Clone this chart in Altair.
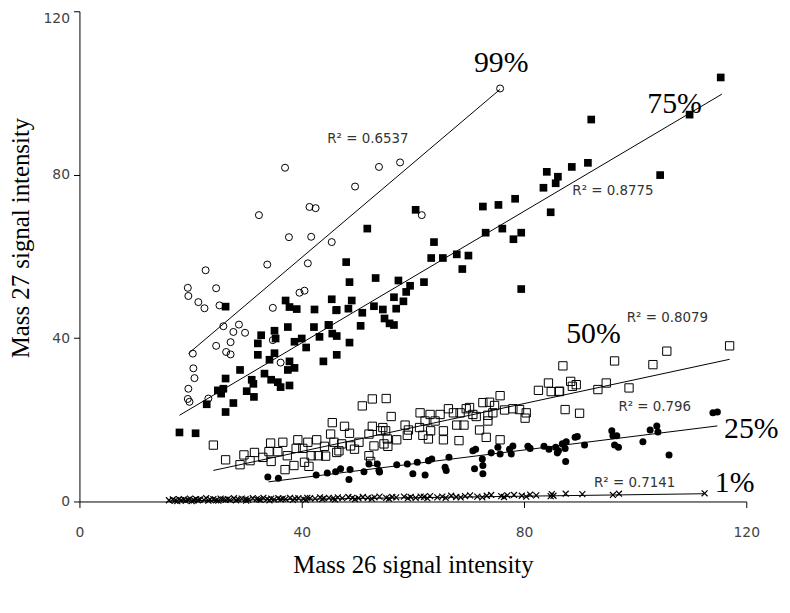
import altair as alt
import pandas as pd

# ---- data ----
x99 = [75.7, 53.9, 57.7, 49.6, 45.4, 61.6, 37.0, 32.3, 41.4, 42.5, 37.7, 41.7, 33.8, 41.1, 22.7,
       19.5, 19.6, 24.6, 21.4, 22.5, 25.2, 39.6, 40.5, 34.8, 25.9, 28.7, 27.7, 29.8, 24.6, 27.2,
       26.4, 27.2, 20.4, 20.5, 20.7, 19.6, 19.5, 34.8, 36.2, 23.2, 19.8]
y99 = [101.1, 81.9, 83.0, 77.1, 63.5, 70.1, 81.7, 70.1, 72.1, 71.8, 64.7, 64.8, 58.0, 58.3, 56.6,
       52.3, 50.3, 52.2, 48.8, 47.3, 48.0, 51.1, 51.6, 47.4, 42.9, 43.3, 41.5, 41.3, 38.1, 39.0,
       36.6, 36.0, 36.2, 32.6, 30.2, 27.6, 25.1, 39.5, 34.0, 25.2, 24.4]

x75 = [115.4, 109.8, 104.5, 92.1, 91.5, 88.6, 84.1, 86.1, 85.7, 83.5, 84.8, 78.4, 75.4, 72.6, 73.1,
       76.1, 79.5, 78.1, 79.5, 70.0, 67.9, 65.4, 63.3, 68.9, 63.8, 60.5, 51.8, 48.0, 48.6, 53.3,
       57.4, 59.5, 62.0, 58.8, 56.6, 58.3, 57.0, 45.4, 49.0, 46.3, 48.4, 50.9, 53.0, 54.6, 54.9,
       55.8, 56.6, 50.6, 44.9, 45.5, 46.3, 48.6, 46.3, 26.3, 37.1, 37.8, 39.1, 42.3, 46.2, 37.5,
       42.2, 44.8, 32.7, 32.1, 35.1, 35.3, 38.7, 40.0, 40.8, 43.2, 32.1, 35.1, 34.2, 37.8, 38.7,
       37.5, 43.9, 28.9, 33.3, 34.5, 35.7, 36.2, 37.8, 31.0, 31.3, 30.1, 31.4, 26.3, 24.9, 25.9,
       25.5, 27.7, 22.9, 26.3, 18.0, 20.9]
y75 = [103.8, 94.7, 79.9, 93.5, 82.9, 81.9, 80.7, 79.5, 77.9, 76.8, 70.8, 74.1, 72.6, 72.2, 65.8,
       66.8, 65.8, 64.2, 52.0, 60.2, 60.5, 59.6, 59.6, 56.9, 63.5, 71.4, 66.8, 58.6, 53.7, 54.7,
       54.1, 52.8, 53.7, 51.3, 50.0, 49.0, 47.2, 49.5, 49.2, 46.9, 47.2, 46.2, 47.8, 47.0, 44.8,
       43.6, 43.2, 43.0, 43.2, 41.1, 40.5, 38.9, 35.9, 47.7, 49.2, 47.6, 47.1, 47.0, 46.8, 42.7,
       42.7, 43.2, 40.7, 38.7, 41.8, 39.9, 39.1, 39.9, 37.7, 40.3, 35.9, 36.3, 34.7, 34.3, 32.7,
       32.2, 34.3, 32.2, 31.3, 29.8, 29.2, 28.0, 28.4, 29.8, 28.8, 27.0, 25.6, 30.1, 27.2, 27.6,
       26.4, 24.1, 23.8, 21.9, 16.9, 16.7]

x50 = [24.1, 26.3, 28.9, 29.6, 30.7, 31.5, 33.0, 34.4, 36.6, 34.1, 35.7, 34.5, 37.0, 37.4, 38.6,
       39.3, 41.1, 42.7, 39.0, 40.2, 40.5, 41.3, 41.7, 43.0, 44.1, 44.3, 45.5, 47.7, 48.6, 45.2,
       45.8, 47.2, 46.3, 46.7, 48.8, 49.5, 50.3, 50.9, 52.7, 52.1, 52.7, 54.2, 52.1, 52.4, 53.0,
       55.2, 54.6, 55.1, 55.4, 54.8, 55.5, 56.1, 57.1, 58.6, 59.2, 59.0, 61.2, 61.8, 62.8, 63.2,
       61.3, 62.2, 63.1, 64.0, 64.9, 65.5, 65.5, 66.4, 67.3, 68.5, 69.6, 70.2, 70.8, 71.4, 67.9,
       69.2, 68.3, 72.0, 73.2, 73.5, 73.5, 72.6, 73.8, 74.7, 74.4, 75.7, 75.7, 76.5, 78.0, 79.2,
       80.4, 80.2, 82.6, 84.4, 84.9, 86.3, 87.0, 87.4, 88.4, 88.7, 89.4, 86.4, 90.0, 93.3, 94.8,
       96.3, 98.9, 103.2, 105.7, 117.0]
y50 = [13.8, 10.2, 9.0, 11.4, 10.0, 12.0, 10.8, 14.3, 14.5, 12.2, 12.2, 9.8, 7.8, 11.2, 8.8,
       15.1, 14.5, 15.1, 13.0, 13.0, 9.6, 8.6, 11.2, 11.2, 13.5, 11.1, 19.3, 18.4, 16.7, 16.5,
       14.5, 14.1, 12.0, 12.4, 13.6, 12.8, 14.5, 23.4, 25.1, 16.5, 18.4, 17.3, 11.2, 9.8, 13.6,
       25.2, 18.1, 17.3, 15.3, 14.1, 13.5, 20.8, 15.1, 18.7, 17.5, 16.2, 18.1, 16.2, 15.3, 17.3,
       21.7, 19.7, 21.3, 19.7, 21.3, 17.3, 15.1, 22.7, 21.7, 21.7, 22.7, 23.0, 21.3, 20.8, 18.7,
       18.7, 14.9, 17.5, 15.7, 19.7, 21.1, 24.2, 24.3, 23.5, 21.7, 25.9, 15.1, 22.4, 22.7, 22.5,
       21.7, 20.4, 27.2, 29.0, 26.9, 26.9, 33.2, 22.5, 29.4, 28.2, 28.6, 27.0, 21.6, 27.4, 29.0,
       34.4, 27.8, 33.5, 36.8, 38.1]

x25 = [33.9, 35.8, 42.6, 44.6, 46.1, 47.0, 48.7, 48.5, 51.2, 52.1, 53.6, 53.9, 54.0, 57.1, 59.0,
       60.0, 60.8, 62.2, 62.8, 63.4, 65.8, 66.0, 66.5, 70.8, 71.3, 71.1, 72.5, 72.6, 72.6, 74.1,
       75.3, 75.7, 77.4, 77.7, 78.0, 80.7, 81.1, 83.6, 84.5, 85.7, 86.0, 87.4, 87.6, 87.5, 89.2,
       86.2, 86.9, 89.6, 90.9, 95.8, 96.0, 96.7, 96.3, 97.0, 101.4, 102.7, 103.9, 104.1, 106.1,
       114.0, 114.8]
y25 = [6.0, 5.7, 6.5, 7.0, 7.3, 8.0, 7.8, 5.4, 7.3, 9.2, 9.2, 7.6, 7.2, 9.0, 9.2,
       6.8, 9.6, 6.5, 10.0, 10.4, 8.4, 7.6, 10.8, 12.4, 12.8, 8.0, 10.4, 8.8, 6.8, 11.9,
       13.3, 11.6, 12.8, 11.6, 13.6, 13.5, 13.0, 13.5, 12.8, 13.3, 11.9, 13.0, 14.6, 9.8, 15.7,
       12.4, 14.1, 15.9, 13.8, 17.3, 16.1, 16.1, 13.8, 13.3, 14.6, 17.5, 18.5, 17.0, 11.4,
       21.7, 21.9]

x1 = [16.1, 16.8, 17.2, 17.9, 18.3, 18.8, 19.5, 19.9, 20.6, 21.0, 21.7, 22.4, 22.8, 23.5, 24.1,
      24.6, 25.4, 25.9, 26.7, 27.1, 27.8, 28.6, 29.2, 29.9, 30.4, 31.2, 31.9, 32.3, 33.1, 33.8,
      34.5, 35.0, 35.8, 36.6, 37.1, 37.9, 38.8, 39.4, 40.3, 41.0, 41.5, 42.4, 43.3, 44.0, 44.9,
      45.6, 46.5, 47.3, 48.4, 49.1, 50.2, 51.0, 51.9, 53.1, 54.0, 55.2, 56.3, 57.0, 58.4, 59.6,
      60.5, 61.4, 62.0, 63.1, 64.4, 65.3, 66.9, 67.8, 69.4, 70.3, 71.6, 73.3, 74.1, 75.9, 77.0,
      78.2, 79.6, 81.1, 82.2, 85.0, 85.3, 87.5, 90.5, 96.0, 97.1, 112.5,
      17.6, 19.1, 20.2, 21.3, 23.2, 25.0, 26.3, 28.2, 30.0, 32.6, 34.2, 36.2, 38.4, 40.7, 43.7,
      46.0, 49.6, 52.6, 55.7, 59.1, 62.6, 65.9, 68.6, 72.5, 76.4, 80.4, 84.8]
y1 = [0.3, 0.5, 0.2, 0.6, 0.3, 0.5, 0.4, 0.7, 0.3, 0.6, 0.5, 0.4, 0.8, 0.5, 0.6,
      0.3, 0.7, 0.5, 0.6, 0.4, 0.8, 0.5, 0.7, 0.6, 0.4, 0.8, 0.6, 0.5, 0.9, 0.6,
      0.7, 0.5, 0.8, 0.7, 0.6, 0.9, 0.7, 0.8, 0.6, 0.9, 0.8, 0.7, 1.0, 0.8, 0.9,
      0.7, 1.0, 0.8, 1.1, 0.9, 0.8, 1.1, 0.9, 1.0, 1.2, 0.9, 1.1, 1.0, 1.2, 1.1,
      0.9, 1.2, 1.1, 1.3, 1.0, 1.2, 1.4, 1.1, 1.3, 1.5, 1.2, 1.4, 1.6, 1.3, 1.5,
      1.6, 1.4, 1.7, 1.5, 1.8, 1.4, 1.9, 1.8, 1.6, 1.9, 2.0,
      0.1, 0.2, 0.1, 0.3, 0.2, 0.2, 0.4, 0.3, 0.2, 0.4, 0.3, 0.5, 0.4, 0.4, 0.6,
      0.5, 0.6, 0.7, 0.7, 0.8, 0.8, 0.9, 1.0, 1.0, 1.1, 1.2, 1.3]

# trend lines (start / end)
trend_x1 = [19.6, 18.0, 24.1, 34.0, 16.0]
trend_y1 = [36.2, 21.1, 7.6, 4.8, 0.1]
trend_x2 = [75.7, 115.6, 117.0, 114.8, 112.5]
trend_y2 = [100.9, 99.7, 34.8, 18.5, 1.9]

r2_text = ["R² = 0.6537", "R² = 0.8775", "R² = 0.8079", "R² = 0.796", "R² = 0.7141"]
r2_x = [44.6, 88.7, 98.5, 97.0, 92.6]
r2_y = [88.7, 75.9, 44.8, 23.0, 4.4]

pct_text = ["99%", "75%", "50%", "25%", "1%"]
pct_x = [75.9, 107.1, 92.5, 120.9, 117.9]
pct_y = [107.4, 97.2, 41.0, 17.7, 4.4]

# ---- chart ----
X = alt.X("x:Q", scale=alt.Scale(domain=[0, 120], nice=False),
          axis=alt.Axis(values=[0, 40, 80, 120], title="Mass 26 signal intensity",
                        grid=False, tickSize=6, labelPadding=18, titlePadding=14))
Y = alt.Y("y:Q", scale=alt.Scale(domain=[0, 120], nice=False),
          axis=alt.Axis(values=[0, 40, 80, 120], title="Mass 27 signal intensity",
                        grid=False, tickSize=6, labelPadding=4, titleX=-46, titleY=228,
                        labelBaseline=alt.condition("datum.value == 120",
                                                    alt.value("top"), alt.value("middle"))))


def df(xs, ys):
    return pd.DataFrame({"x": xs, "y": ys})


p99 = alt.Chart(df(x99, y99)).mark_point(shape="circle", filled=False, color="black",
                                         size=50, strokeWidth=1, opacity=1).encode(x=X, y=Y)
p75 = alt.Chart(df(x75, y75)).mark_point(shape="square", filled=True, color="black",
                                         size=60, opacity=1).encode(x=X, y=Y)
p50 = alt.Chart(df(x50, y50)).mark_point(shape="square", filled=False, color="black",
                                         size=70, strokeWidth=1, opacity=1).encode(x=X, y=Y)
p25 = alt.Chart(df(x25, y25)).mark_point(shape="circle", filled=True, color="black",
                                         size=50, opacity=1).encode(x=X, y=Y)
p1 = alt.Chart(df(x1, y1)).mark_point(shape="M-1,-1L1,1M-1,1L1,-1", filled=False, color="black",
                                      size=36, strokeWidth=1.2, opacity=1).encode(x=X, y=Y)

trend_df = pd.DataFrame({"x": trend_x1, "y": trend_y1, "x2": trend_x2, "y2": trend_y2})
trends = alt.Chart(trend_df).mark_rule(color="black", strokeWidth=1).encode(
    x=X, y=Y, x2="x2:Q", y2="y2:Q")

r2_df = pd.DataFrame({"x": r2_x, "y": r2_y, "t": r2_text})
r2 = alt.Chart(r2_df).mark_text(align="left", baseline="middle", font="DejaVu Sans",
                                fontSize=13.5, color="#333333").encode(x=X, y=Y, text="t:N")

pct_df = pd.DataFrame({"x": pct_x, "y": pct_y, "t": pct_text})
pct = alt.Chart(pct_df).mark_text(align="center", baseline="middle", font="Liberation Serif",
                                  fontSize=30, color="black").encode(x=X, y=Y, text="t:N")

chart = alt.layer(trends, p1, p25, p50, p75, p99, r2, pct).properties(
    width=672, height=494,
    background="white",
    autosize=alt.AutoSizeParams(type="none"),
    padding={"left": 72, "top": 1, "right": 36, "bottom": 100},
).configure_view(stroke=None).configure_axis(
    domainColor="black", tickColor="black", domainWidth=1, tickWidth=1,
    labelFont="DejaVu Sans", labelFontSize=14, labelColor="#444444",
    titleFont="Liberation Serif", titleFontSize=25, titleFontWeight="normal", titleColor="black",
    labelFlush=False,
)

chart.save("out.html", embed_options={"renderer": "svg", "actions": False})
